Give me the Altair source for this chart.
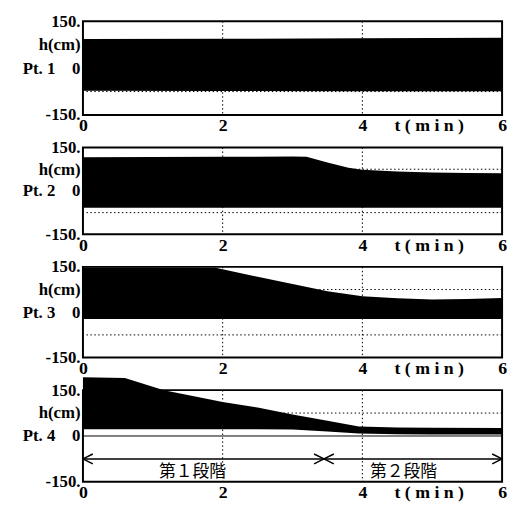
import altair as alt
import pandas as pd

# ---- data (t in min, h in cm) ----
t1 = [0, 2, 4, 6]
up1 = [93, 94, 96, 97]
lo1 = [-72, -73, -74, -74]

t2 = [0, 1, 2, 3, 3.2, 3.5, 3.8, 4.0, 4.5, 5.0, 5.5, 6.0]
up2 = [116, 117, 118, 119, 118, 98, 80, 73, 67, 64, 62, 61]
lo2 = [-58, -58, -58, -58, -58, -58, -58, -58, -58, -58, -58, -58]

t3 = [0, 1, 1.9, 2.5, 3.0, 3.5, 4.0, 4.5, 5.0, 5.5, 6.0]
up3 = [148, 148, 147, 117, 93, 69, 53, 46, 42, 44, 47]
lo3 = [-22, -22, -22, -22, -22, -22, -22, -22, -22, -22, -22]

t4 = [0, 0.6, 1.16, 2.0, 2.5, 3.0, 3.5, 3.95, 4.5, 5.0, 6.0]
up4 = [192, 190, 150, 111, 93, 70, 50, 31, 28, 27, 26]
lo4 = [22, 22, 22, 22, 22, 21, 15, 8, 6, 5, 5]

point_names = ["Pt. 1", "Pt. 2", "Pt. 3", "Pt. 4"]
grid_t = [2, 4]
grid_h = [-75, 75]
stage_bounds = [0, 3.45, 6]
stage_names = ["第１段階", "第２段階"]
stage_label_t = [1.57, 4.59]
stage_arrow_h = -75
stage_label_h = -118

FONT = "Liberation Serif"
NB = "\u00a0"

xaxis = alt.Axis(
    values=[0, 2, 4, 4.95, 6],
    labelExpr="datum.value > 4.5 && datum.value < 5.5 ? 't ( m i n )' : format(datum.value, 'd')",
    grid=False, ticks=False, domain=False, title=None,
    labelFont=FONT, labelFontSize=18, labelFontWeight="bold", labelColor="black",
    labelPadding=2, labelFlush=False, labelOverlap=False,
)


def yaxis(name):
    zero_label = name + NB * 4 + "0" + NB
    expr = ("datum.value == 150 ? '150.' : datum.value == -150 ? '-150.' : "
            "datum.value == 75 ? 'h(cm)' : '" + zero_label + "'")
    return alt.Axis(
        values=[-150, 0, 75, 150], labelExpr=expr,
        grid=False, ticks=False, domain=False, title=None,
        labelFont=FONT, labelFontSize=17, labelFontWeight="bold", labelColor="black",
        labelPadding=3, labelOverlap=False, minExtent=75, maxExtent=75,
    )


xscale = alt.Scale(domain=[0, 6], nice=False, zero=False)
yscale = alt.Scale(domain=[-150, 150], nice=False, zero=False)


def panel(idx, t, up, lo, h):
    name = point_names[idx]
    ya = yaxis(name)
    X = lambda f: alt.X(f, type="quantitative", scale=xscale, axis=xaxis)
    Y = lambda f: alt.Y(f, type="quantitative", scale=yscale, axis=ya)
    df = pd.DataFrame({"t": t, "up": up, "lo": lo})
    dot = dict(color="black", strokeWidth=1, strokeDash=[1.5, 2.5])
    gv = alt.Chart(pd.DataFrame({"t": grid_t})).mark_rule(**dot).encode(x=X("t"))
    hv = grid_h if idx < 3 else [v for v in grid_h if v != stage_arrow_h]
    gh = alt.Chart(pd.DataFrame({"up": hv})).mark_rule(**dot).encode(y=Y("up"))
    area = alt.Chart(df).mark_area(color="black", opacity=1, clip=False).encode(
        x=X("t"), y=Y("up"), y2="lo:Q")
    layers = [gv, gh, area]
    if idx == 3:
        zero = alt.Chart(pd.DataFrame({"up": [0]})).mark_rule(
            color="black", strokeWidth=1).encode(y=Y("up"))
        arrow = alt.Chart(pd.DataFrame({"t": [stage_bounds[0]], "t2": [stage_bounds[-1]],
                                        "up": [stage_arrow_h]})).mark_rule(
            color="black", strokeWidth=1.5).encode(x=X("t"), x2="t2:Q", y=Y("up"))
        left_heads = alt.Chart(pd.DataFrame({"t": stage_bounds[:-1],
                                             "up": [stage_arrow_h] * 2})).mark_point(
            shape="M0,0L1,-0.5M0,0L1,0.5", size=400, filled=False, color="black",
            strokeWidth=1.5, opacity=1).encode(x=X("t"), y=Y("up"))
        right_heads = alt.Chart(pd.DataFrame({"t": stage_bounds[1:],
                                              "up": [stage_arrow_h] * 2})).mark_point(
            shape="M0,0L-1,-0.5M0,0L-1,0.5", size=400, filled=False, color="black",
            strokeWidth=1.5, opacity=1).encode(x=X("t"), y=Y("up"))
        labels = alt.Chart(pd.DataFrame({"t": stage_label_t, "up": [stage_label_h] * 2,
                                         "name": stage_names})).mark_text(
            font="Noto Sans CJK JP", fontSize=17, color="black", baseline="middle",
            align="center").encode(x=X("t"), y=Y("up"), text="name:N")
        layers += [zero, arrow, left_heads, right_heads, labels]
    return alt.layer(*layers).properties(width=425, height=h)


p1 = panel(0, t1, up1, lo1, 95)
p2 = panel(1, t2, up2, lo2, 88)
p3 = panel(2, t3, up3, lo3, 92)
p4 = panel(3, t4, up4, lo4, 93)

chart = alt.vconcat(p1, p2, p3, p4, spacing=33, bounds="flush").properties(
    padding={"left": 0, "top": 0, "right": 0, "bottom": 0},
    background="white",
).configure_view(stroke="black", strokeWidth=2)

chart.save("out.html", embed_options={"renderer": "svg", "actions": False})
